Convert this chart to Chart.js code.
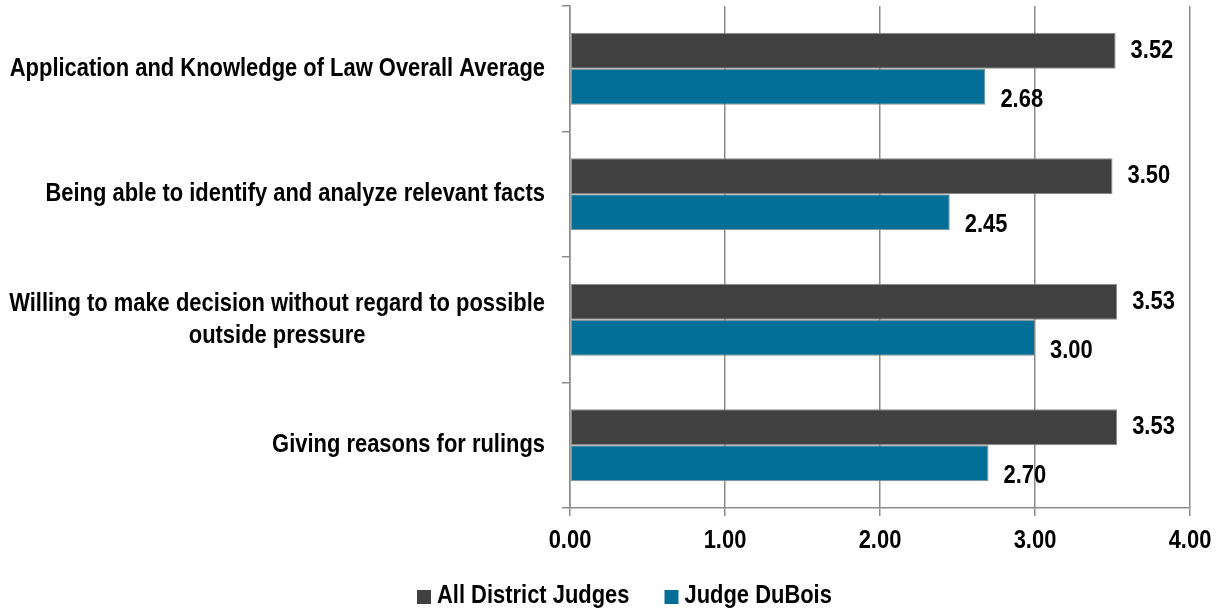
<!DOCTYPE html>
<html>
<head>
<meta charset="utf-8">
<script src="https://cdn.jsdelivr.net/npm/chart.js@4.4.1/dist/chart.umd.min.js"></script>
<style>
  html, body { margin: 0; padding: 0; background: #ffffff; }
  #wrap { position: relative; width: 1220px; height: 612px; }
</style>
</head>
<body>
<div id="wrap"><canvas id="c" width="1220" height="612"></canvas></div>
<script>
const categories = [
  ["Application and Knowledge of Law Overall Average"],
  ["Being able to identify and analyze relevant facts"],
  ["Willing to make decision without regard to possible", "outside pressure"],
  ["Giving reasons for rulings"]
];
const seriesNames = ["All District Judges", "Judge DuBois"];
const allDistrictJudges = [3.52, 3.50, 3.53, 3.53];
const judgeDuBois = [2.68, 2.45, 3.00, 2.70];
const xTicks = [0, 1, 2, 3, 4];
const seriesColors = ['#404040', '#036f96'];

const FONT_FAMILY = '"Liberation Sans", Arial, sans-serif';
const FONT_SIZE = 25;
const SX = 0.877; // horizontal condensing of the text
const GRID = '#8c8c8c';

function drawText(ctx, text, x, y, align) {
  ctx.save();
  ctx.translate(x, y);
  ctx.scale(SX, 1);
  ctx.textAlign = align;
  ctx.fillText(text, 0, 0);
  ctx.restore();
}
function textWidth(ctx, text) { return ctx.measureText(text).width * SX; }

const customLabels = {
  id: 'customLabels',
  afterDraw(chart) {
    const ctx = chart.ctx;
    ctx.save();
    ctx.font = 'bold ' + FONT_SIZE + 'px ' + FONT_FAMILY;
    ctx.fillStyle = '#000';
    ctx.textBaseline = 'middle';
    const area = chart.chartArea;
    // category labels
    const y = chart.scales.y;
    const xRight = area.left - 25;
    const lh = 32;
    categories.forEach((lines, i) => {
      const cy = y.getPixelForTick(i);
      const maxW = Math.max(...lines.map(l => textWidth(ctx, l)));
      const center = xRight - maxW / 2;
      const startY = cy - (lines.length - 1) * lh / 2;
      lines.forEach((l, k) => drawText(ctx, l, center, startY + k * lh, 'center'));
    });
    // x tick labels
    const x = chart.scales.x;
    xTicks.forEach(v => drawText(ctx, v.toFixed(2), x.getPixelForValue(v), area.bottom + 33, 'center'));
    // value labels
    chart.data.datasets.forEach((ds, di) => {
      const meta = chart.getDatasetMeta(di);
      meta.data.forEach((bar, j) => {
        const dy = di === 1 ? 13 : 0;
        drawText(ctx, ds.data[j].toFixed(2), bar.x + 15, bar.y + dy, 'left');
      });
    });
    // legend
    const box = 14, gapBox = 6, gapItem = 35, ly = 597;
    const widths = seriesNames.map(n => box + gapBox + textWidth(ctx, n));
    let lx = 417;
    seriesNames.forEach((n, i) => {
      ctx.fillStyle = seriesColors[i];
      ctx.fillRect(lx, ly - box / 2, box, box);
      ctx.fillStyle = '#000';
      drawText(ctx, n, lx + box + gapBox, ly - 1, 'left');
      lx += widths[i] + gapItem;
    });
    ctx.restore();
  }
};

new Chart(document.getElementById('c'), {
  type: 'bar',
  data: {
    labels: categories,
    datasets: [
      { label: seriesNames[0], data: allDistrictJudges, backgroundColor: seriesColors[0], borderColor: '#8a8a8a', borderWidth: 1, borderSkipped: false },
      { label: seriesNames[1], data: judgeDuBois, backgroundColor: seriesColors[1], borderColor: '#8a8a8a', borderWidth: 1, borderSkipped: false }
    ]
  },
  options: {
    indexAxis: 'y',
    responsive: false,
    animation: false,
    events: [],
    layout: { padding: { top: 6, right: 30, bottom: 0, left: 0 } },
    datasets: { bar: { categoryPercentage: 0.574, barPercentage: 1.0 } },
    scales: {
      x: {
        min: 0, max: 4,
        afterBuildTicks(scale) { scale.ticks = xTicks.map(v => ({ value: v })); },
        afterFit(scale) { scale.height = 104; },
        border: { display: true, color: GRID, width: 1.5 },
        grid: { display: true, color: GRID, lineWidth: 1.5, tickLength: 8, drawOnChartArea: true },
        ticks: { display: false }
      },
      y: {
        afterFit(scale) { scale.width = 570; },
        border: { display: true, color: GRID, width: 1.5 },
        grid: { display: true, offset: true, color: GRID, lineWidth: 1.5, tickLength: 8, drawOnChartArea: false },
        ticks: { display: false }
      }
    },
    plugins: {
      legend: { display: false },
      tooltip: { enabled: false }
    }
  },
  plugins: [customLabels]
});
</script>
</body>
</html>
